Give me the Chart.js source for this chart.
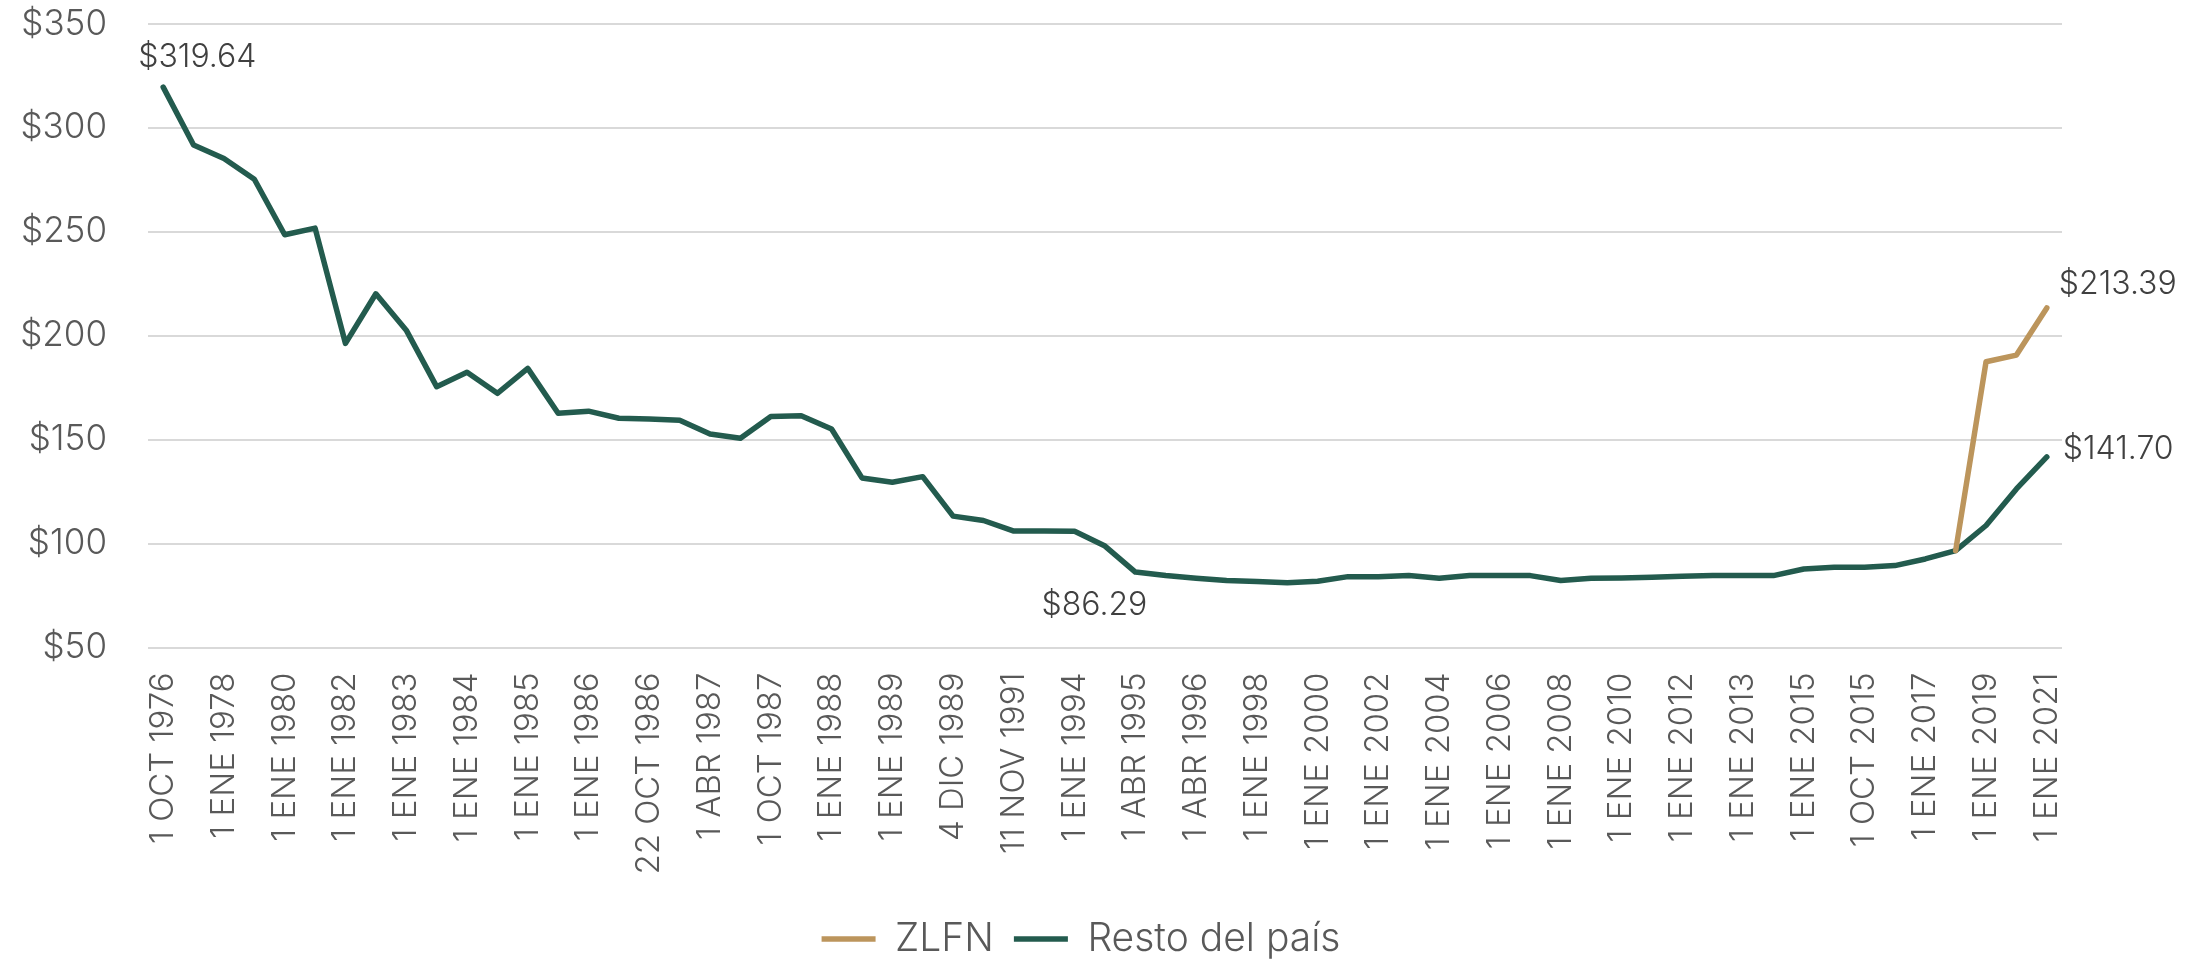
<!DOCTYPE html>
<html>
<head>
<meta charset="utf-8">
<script src="https://cdn.jsdelivr.net/npm/chart.js@4/dist/chart.umd.min.js"></script>
<style>
  html, body { margin: 0; padding: 0; background: #fff; }
  #wrap { width: 2201px; height: 961px; }
</style>
</head>
<body>
<div id="wrap"><canvas id="myChart" width="2201" height="961"></canvas></div>
<script>
// fechas de cada cambio de salario minimo
const fechas = [
    '1 OCT 1976', '1 ENE 1977', '1 ENE 1978', '1 ENE 1979', '1 ENE 1980', '1 ENE 1981',
    '1 ENE 1982', '1 NOV 1982', '1 ENE 1983', '14 JUN 1983', '1 ENE 1984', '11 JUN 1984',
    '1 ENE 1985', '4 JUN 1985', '1 ENE 1986', '1 JUN 1986', '22 OCT 1986', '1 ENE 1987',
    '1 ABR 1987', '1 JUL 1987', '1 OCT 1987', '16 DIC 1987', '1 ENE 1988', '1 MAR 1988',
    '1 ENE 1989', '1 JUL 1989', '4 DIC 1989', '16 NOV 1990', '11 NOV 1991', '1 ENE 1993',
    '1 ENE 1994', '1 ENE 1995', '1 ABR 1995', '4 DIC 1995', '1 ABR 1996', '3 DIC 1996',
    '1 ENE 1998', '3 DIC 1998', '1 ENE 2000', '1 ENE 2001', '1 ENE 2002', '1 ENE 2003',
    '1 ENE 2004', '1 ENE 2005', '1 ENE 2006', '1 ENE 2007', '1 ENE 2008', '1 ENE 2009',
    '1 ENE 2010', '1 ENE 2011', '1 ENE 2012', '27 NOV 2012', '1 ENE 2013', '1 ENE 2014',
    '1 ENE 2015', '1 ABR 2015', '1 OCT 2015', '1 ENE 2016', '1 ENE 2017', '1 DIC 2017',
    '1 ENE 2019', '1 ENE 2020', '1 ENE 2021'
];

const restoDelPais = [
    319.64, 291.8, 285.3, 275.3, 248.6, 251.8,
    196.3, 220.2, 202.7, 175.5, 182.4, 172.3,
    184.3, 162.7, 163.7, 160.3, 160.0, 159.3,
    152.7, 150.7, 161.1, 161.5, 155.1, 131.6,
    129.5, 132.2, 113.2, 111.1, 106.0, 106.0,
    105.9, 98.8, 86.29, 84.6, 83.3, 82.2,
    81.7, 81.1, 81.9, 84.1, 84.1, 84.6,
    83.3, 84.6, 84.6, 84.6, 82.2, 83.3,
    83.5, 83.8, 84.3, 84.6, 84.6, 84.6,
    87.8, 88.6, 88.6, 89.4, 92.6, 96.6,
    108.7, 126.3, 141.70
];

const zlfn = [];
for (let i = 0; i < 59; i++) zlfn.push(null);
zlfn.push(96.6, 187.5, 190.7, 213.39);

const yTicks = [50, 100, 150, 200, 250, 300, 350];

// que puntos llevan etiqueta
const etiquetas = [
    { serie: 1, idx: 0 },
    { serie: 1, idx: 32 },
    { serie: 0, idx: 62 },
    { serie: 1, idx: 62 }
];
// donde se dibuja cada etiqueta respecto al punto
const etiquetaPos = [
    { dx: -25, dy: -30, align: 'left' },
    { dx: -41, dy: 33, align: 'center' },
    { dx: 12, dy: -24, align: 'left' },
    { dx: 16, dy: -8, align: 'left' }
];

const FONT = 'Inter, "Open Sans", sans-serif';
const GRIS = '#595959';

const valueLabels = {
    id: 'valueLabels',
    afterDatasetsDraw(chart) {
        const ctx = chart.ctx;
        ctx.save();
        ctx.font = '300 32px ' + FONT;
        ctx.fillStyle = '#404040';
        ctx.textBaseline = 'middle';
        etiquetas.forEach((e, i) => {
            const pt = chart.getDatasetMeta(e.serie).data[e.idx];
            const v = chart.data.datasets[e.serie].data[e.idx];
            const p = etiquetaPos[i];
            ctx.textAlign = p.align;
            ctx.fillText('$' + v.toFixed(2), pt.x + p.dx, pt.y + p.dy);
        });
        ctx.restore();
    }
};

// la leyenda del original queda un poco a la derecha del centro
const moverLeyenda = {
    id: 'moverLeyenda',
    afterLayout(chart) {
        if (chart.legend) chart.legend.left += 100;
    }
};

const canvas = document.getElementById('myChart');
const ctx = canvas.getContext('2d');

Chart.defaults.font.family = FONT;
Chart.defaults.font.weight = 300;
Chart.defaults.color = GRIS;

const myChart = new Chart(ctx, {
    type: 'line',
    data: {
        labels: fechas,
        datasets: [{
            label: 'ZLFN',
            data: zlfn,
            borderColor: '#BC955C',
            backgroundColor: '#BC955C',
            borderWidth: 5.5,
            borderCapStyle: 'round',
            borderJoinStyle: 'round',
            pointRadius: 0,
            tension: 0,
            spanGaps: false
        }, {
            label: 'Resto del país',
            data: restoDelPais,
            borderColor: '#235B4E',
            backgroundColor: '#235B4E',
            borderWidth: 5.5,
            borderCapStyle: 'round',
            borderJoinStyle: 'round',
            pointRadius: 0,
            tension: 0
        }]
    },
    options: {
        responsive: false,
        animation: false,
        layout: {
            padding: { top: 24, right: 139, left: 0, bottom: -7.5 }
        },
        plugins: {
            legend: {
                position: 'bottom',
                labels: {
                    usePointStyle: true,
                    pointStyle: 'line',
                    pointStyleWidth: 54,
                    padding: 20,
                    color: GRIS,
                    font: { size: 39, weight: 300 }
                }
            },
            tooltip: { enabled: false }
        },
        scales: {
            x: {
                offset: true,
                grid: { display: false, drawTicks: false },
                border: { display: false },
                ticks: {
                    autoSkip: false,
                    minRotation: 90,
                    maxRotation: 90,
                    padding: 25,
                    color: GRIS,
                    font: { size: 33, weight: 300 },
                    callback: function (value, index) {
                        return index % 2 === 0 ? fechas[index] : '';
                    }
                },
                afterFit: (scale) => { scale.height = 252; }
            },
            y: {
                min: 50,
                max: 350,
                afterBuildTicks: (scale) => {
                    scale.ticks = yTicks.map(v => ({ value: v }));
                },
                grid: {
                    color: '#d9d9d9',
                    lineWidth: 2,
                    drawTicks: true,
                    tickLength: 41,
                    tickColor: 'rgba(0,0,0,0)'
                },
                border: { display: false },
                ticks: {
                    padding: 0,
                    color: GRIS,
                    font: { size: 35, weight: 300 },
                    callback: (v) => '$' + v
                },
                afterFit: (scale) => { scale.width = 148; }
            }
        }
    },
    plugins: [valueLabels, moverLeyenda]
});
</script>
</body>
</html>
